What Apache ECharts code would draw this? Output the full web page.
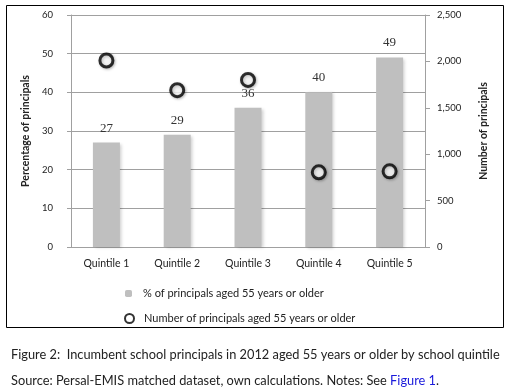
<!DOCTYPE html>
<html>
<head>
<meta charset="utf-8">
<script src="https://cdn.jsdelivr.net/npm/echarts@6/dist/echarts.min.js"></script>
<style>
  html, body { margin: 0; padding: 0; background: #fff; }
  #chart { width: 513px; height: 392px; }
</style>
</head>
<body>
<div id="chart"></div>
<script>
// data
const quintiles = ['Quintile 1', 'Quintile 2', 'Quintile 3', 'Quintile 4', 'Quintile 5'];
const pctOlder = [27, 29, 36, 40, 49];          // % of principals aged 55+
const numOlder = [2010, 1690, 1800, 805, 815];  // number of principals aged 55+
const pctTicks = [0, 60, 10];                   // min, max, step
const numTicks = [0, 2500, 500];

const FONT = 'Lato';
const gridGray = '#a0a0a0';

const myChart = echarts.init(document.getElementById('chart'));
myChart.setOption({
    backgroundColor: '#fff',
    animation: false,
    textStyle: { fontFamily: FONT },
    grid: { left: 71, right: 88, top: 15, bottom: 145 },
    graphic: [{
        type: 'rect',
        shape: { x: 6.5, y: 5.5, width: 497, height: 322 },
        style: { fill: 'none', stroke: '#000', lineWidth: 1 },
        silent: true
    }],
    title: [{
        left: 6, top: 343,
        text: 'Figure 2:  Incumbent school principals in 2012 aged 55 years or older by school quintile',
        textStyle: { fontFamily: FONT, fontSize: 12.8, fontWeight: 'normal', color: '#222' }
    }, {
        left: 6, top: 369,
        text: 'Source: Persal-EMIS matched dataset, own calculations. Notes: See {b|Figure 1}.',
        textStyle: {
            fontFamily: FONT, fontSize: 12.8, fontWeight: 'normal', color: '#222',
            rich: { b: { fontFamily: FONT, fontSize: 12.8, color: '#1a1adb' } }
        }
    }],
    legend: [{
        data: ['% of principals aged 55 years or older'],
        left: 120, top: 283,
        itemWidth: 7, itemHeight: 7,
        textStyle: { fontSize: 11, color: '#222', padding: [0, 0, 0, 6] }
    }, {
        data: ['Number of principals aged 55 years or older'],
        left: 119, top: 308,
        itemWidth: 9, itemHeight: 9,
        textStyle: { fontSize: 11, color: '#222', padding: [0, 0, 0, 5] }
    }],
    xAxis: [{
        type: 'category',
        data: quintiles,
        axisLine: { lineStyle: { color: gridGray } },
        axisTick: { length: 5, lineStyle: { color: gridGray } },
        axisLabel: { color: '#222', fontSize: 10.5, margin: 11 }
    }],
    yAxis: [{
        type: 'value',
        min: pctTicks[0], max: pctTicks[1], interval: pctTicks[2],
        name: 'Percentage of principals',
        nameLocation: 'middle',
        nameGap: 40,
        nameTextStyle: { fontSize: 10.5, color: '#222', fontWeight: 'bold' },
        axisLine: { show: true, lineStyle: { color: gridGray } },
        axisTick: { show: true, length: 4, lineStyle: { color: gridGray } },
        axisLabel: { color: '#222', fontSize: 9.5, margin: 18 },
        splitLine: { lineStyle: { color: gridGray } }
    }, {
        type: 'value',
        position: 'right',
        min: numTicks[0], max: numTicks[1], interval: numTicks[2],
        name: 'Number of principals',
        nameLocation: 'middle',
        nameGap: 53,
        nameTextStyle: { fontSize: 10.5, color: '#222', fontWeight: 'bold' },
        axisLine: { show: true, lineStyle: { color: gridGray } },
        axisTick: { show: true, length: 5, lineStyle: { color: gridGray } },
        axisLabel: {
            color: '#222', fontSize: 9.5, margin: 12,
            formatter: v => v.toLocaleString('en-US')
        },
        splitLine: { show: false }
    }],
    series: [{
        name: '% of principals aged 55 years or older',
        type: 'bar',
        data: pctOlder,
        barWidth: 27,
        itemStyle: {
            color: '#bfbfbf',
            shadowColor: 'rgba(0,0,0,0.18)',
            shadowBlur: 3,
            shadowOffsetX: 2,
            shadowOffsetY: 1
        },
        label: {
            show: true,
            position: 'top',
            distance: 8,
            fontFamily: 'Liberation Serif',
            fontSize: 13,
            color: '#333'
        },
        z: 2
    }, {
        name: 'Number of principals aged 55 years or older',
        type: 'scatter',
        yAxisIndex: 1,
        data: numOlder,
        symbol: 'circle',
        symbolSize: 13,
        itemStyle: {
            color: '#fff',
            borderColor: '#000',
            borderWidth: 3,
            shadowColor: 'rgba(0,0,0,0.3)',
            shadowBlur: 3,
            shadowOffsetX: 1,
            shadowOffsetY: 1
        },
        z: 3
    }]
});
</script>
</body>
</html>
